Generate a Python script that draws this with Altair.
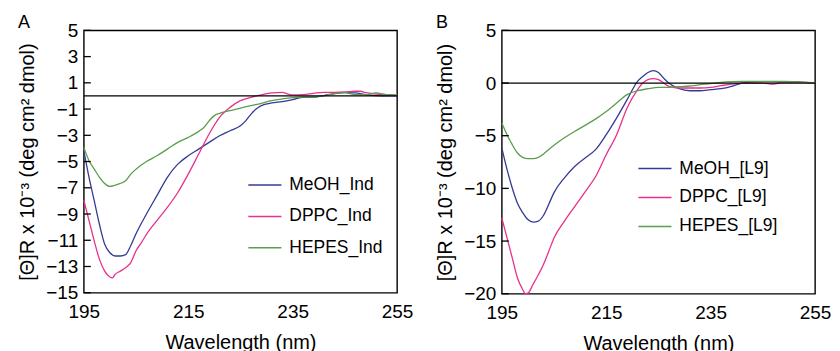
import altair as alt
import pandas as pd

# ---------------- Panel A data ----------------
wl_a_meoh = [195,196,197,198,199,200,201,202,203,204,205,207,209,211,213,215,217,219,221,223,225,226,227,228,229,231,233,235,237,239,241,243,245,247,249,251,253,255]
a_meoh = [-4.18,-6.2,-8.0,-9.8,-11.3,-11.95,-12.2,-12.2,-12.1,-11.4,-10.5,-9.0,-7.6,-6.2,-5.2,-4.56,-4.05,-3.54,-3.03,-2.65,-2.27,-1.9,-1.4,-1.0,-0.74,-0.53,-0.43,-0.28,-0.1,-0.1,0.03,0.18,0.25,0.23,0.1,0.02,0.0,0.0]

wl_a_dppc = [195,196,197,198,199,200,200.5,201,202,203,204,205,206,207,209,211,213,215,217,219,221,223,225,227,229,231,233,234,235,237,239,241,243,245,247,248,249,251,253,255]
a_dppc = [-7.95,-9.5,-11.06,-12.46,-13.35,-13.8,-13.86,-13.6,-13.35,-13.1,-12.7,-11.8,-11.2,-10.55,-9.5,-8.5,-7.36,-5.96,-4.43,-2.9,-1.63,-0.87,-0.36,-0.1,0.08,0.23,0.28,0.15,0.08,0.1,0.2,0.28,0.28,0.3,0.36,0.36,0.25,0.15,0.1,0.05]

wl_a_hepes = [195,196,197,198,199,200,201,202,203,204,205,207,209,211,213,215,217,218,219,220,221,223,225,227,229,231,233,235,237,239,241,243,245,247,249,251,253,255]
a_hepes = [-3.92,-4.94,-5.58,-6.2,-6.67,-6.9,-6.8,-6.67,-6.47,-5.96,-5.58,-5.0,-4.56,-4.05,-3.54,-3.16,-2.7,-2.4,-1.9,-1.5,-1.32,-1.12,-0.92,-0.74,-0.56,-0.36,-0.23,-0.13,-0.08,-0.08,0.03,0.18,0.25,0.1,0.1,0.23,0.1,0.08]

# ---------------- Panel B data ----------------
wl_b_meoh = [195,196,197,198,199,200,201,202,203,204,205,207,209,211,213,215,217,219,221,222,223,224,225,226,227,228,229,231,233,235,237,239,241,243,245,247,249,251,253,255]
b_meoh = [-6.16,-8.2,-9.96,-11.4,-12.3,-12.96,-13.2,-13.1,-12.55,-11.5,-10.4,-9.0,-7.9,-7.1,-6.3,-4.9,-3.3,-1.58,0.16,0.63,1.0,1.17,1.0,0.47,0.0,-0.32,-0.54,-0.73,-0.73,-0.63,-0.54,-0.32,0.0,0.1,0.13,0.13,0.1,0.1,0.06,0.03]

wl_b_dppc = [195,196,197,198,199,199.5,200,201,202,203,204,205,207,209,211,213,215,217,219,221,222,223,224,225,226,227,229,231,233,235,237,239,241,243,245,247,249,251,253,255]
b_dppc = [-12.8,-14.7,-16.6,-18.5,-19.6,-20.0,-19.95,-19.1,-18.2,-17.2,-15.96,-14.7,-13.1,-11.7,-10.3,-8.85,-6.8,-4.9,-2.37,-0.63,0.0,0.32,0.41,0.32,0.0,-0.32,-0.47,-0.47,-0.47,-0.41,-0.25,-0.1,0.0,0.0,0.0,-0.1,0.1,0.13,0.06,0.03]

wl_b_hepes = [195,196,197,198,199,200,201,202,203,204,205,207,209,211,213,215,217,219,221,223,225,227,229,231,233,235,237,239,241,243,245,247,249,251,253,255]
b_hepes = [-3.8,-4.9,-5.85,-6.64,-7.05,-7.17,-7.17,-7.05,-6.73,-6.3,-5.9,-5.2,-4.58,-4.0,-3.4,-2.7,-1.9,-1.1,-0.73,-0.54,-0.41,-0.41,-0.35,-0.28,-0.16,-0.06,0.06,0.13,0.16,0.16,0.16,0.16,0.16,0.13,0.06,0.03]

names_a = ["MeOH_Ind", "DPPC_Ind", "HEPES_Ind"]
names_b = ["MeOH_[L9]", "DPPC_[L9]", "HEPES_[L9]"]
colors = ["#353a96", "#e8318a", "#5a9e4e"]

ticks_a = [5, 3, 1, -1, -3, -5, -7, -9, -11, -13, -15]
ticks_b = [5, 0, -5, -10, -15, -20]
ticks_x = [195, 215, 235, 255]

FONT = "Liberation Sans"
YTITLE = "[\u0398]R x 10\u207b\u00b3 (deg cm\u00b2 dmol)"


def build(series, names, yticks, ydom, w, h, lx, ly, rowpad, letter):
    frames = []
    for (wl, vals), nm in zip(series, names):
        frames.append(pd.DataFrame({"wl": wl, "val": vals, "series": nm,
                                    "order": range(len(wl))}))
    df = pd.concat(frames)
    yscale = alt.Scale(domain=ydom, nice=False, zero=False)
    xaxis = alt.Axis(values=ticks_x, title="Wavelength (nm)", grid=False,
                     ticks=False, domain=False, labelPadding=10,
                     labelFontSize=19, titleFontSize=20, titleFontWeight="normal",
                     labelFont=FONT, titleFont=FONT, labelColor="black",
                     titleColor="black", titlePadding=11, labelFlush=False)
    yaxis = alt.Axis(values=yticks, title=YTITLE, grid=False, ticks=False,
                     domain=False, labelPadding=6, labelFontSize=19,
                     titleFontSize=20, titleFontWeight="normal", labelFont=FONT,
                     titleFont=FONT, labelColor="black", titleColor="black",
                     titlePadding=8, labelFlush=False)
    x = alt.X("wl:Q", scale=alt.Scale(domain=[195, 255], nice=False, zero=False), axis=xaxis)
    y = alt.Y("val:Q", scale=yscale, axis=yaxis)
    lines = alt.Chart(df).mark_line(strokeWidth=1.3, interpolate="monotone").encode(
        x=x, y=y,
        order="order:Q",
        color=alt.Color("series:N", scale=alt.Scale(domain=names, range=colors),
                        sort=names,
                        legend=alt.Legend(title=None, orient="none", legendX=lx,
                                          legendY=ly, symbolType="stroke",
                                          symbolSize=1100, symbolStrokeWidth=1.5,
                                          labelFontSize=17.5, labelFont=FONT,
                                          labelColor="black", labelOffset=7,
                                          rowPadding=rowpad, padding=0)),
    )
    zero = alt.Chart(pd.DataFrame({"val": [0]})).mark_rule(color="black", strokeWidth=1.3).encode(
        y=y)
    tk = alt.Chart(pd.DataFrame({"val": yticks})).mark_rule(color="black", strokeWidth=1.3).encode(
        y=y, x=alt.value(0), x2=alt.value(7))
    lab = alt.Chart(pd.DataFrame({"t": [letter]})).mark_text(
        fontSize=18, font=FONT, color="black", align="left", baseline="top").encode(
        text="t:N", x=alt.value(-66), y=alt.value(-16))
    return alt.layer(lines, zero, tk, lab).properties(width=w, height=h)


panel_a = build([(wl_a_meoh, a_meoh), (wl_a_dppc, a_dppc), (wl_a_hepes, a_hepes)],
                names_a, ticks_a, [-15, 5], 314, 263, 164, 137.5, 5.5, "A")
panel_b = build([(wl_b_meoh, b_meoh), (wl_b_dppc, b_dppc), (wl_b_hepes, b_hepes)],
                names_b, ticks_b, [-20, 5], 314, 264, 136, 121, 3, "B")

chart = alt.hconcat(panel_a, panel_b, spacing=105, bounds="flush").resolve_scale(
    color="independent").resolve_legend(color="independent").properties(
    padding={"left": 9, "top": 5, "right": 0, "bottom": 0},
    background="white",
).configure_view(stroke="black", strokeWidth=1.4)

chart.save("out.html", embed_options={"renderer": "svg", "actions": False})
